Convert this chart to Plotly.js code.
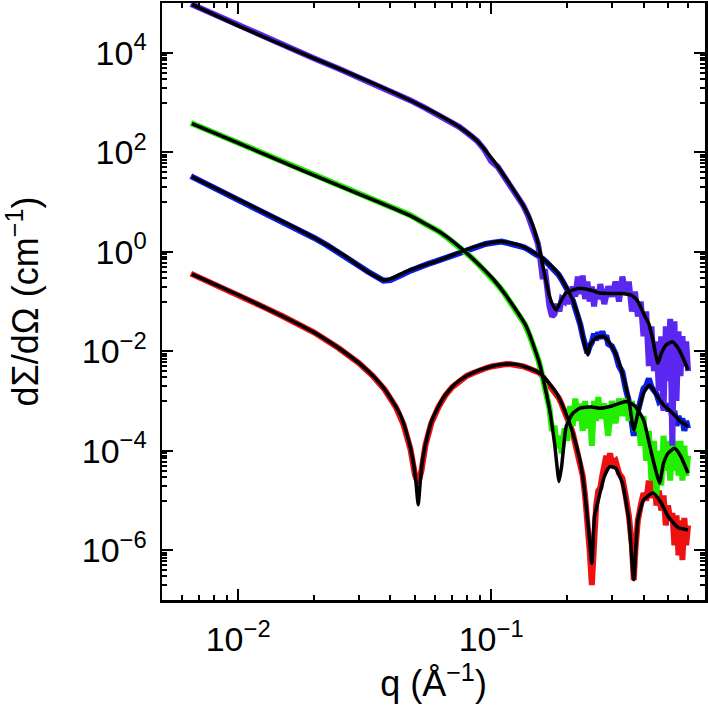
<!DOCTYPE html>
<html>
<head>
<meta charset="utf-8">
<script src="https://cdn.plot.ly/plotly-3.0.1.min.js"></script>
<style>html,body{margin:0;padding:0;background:#fff;}#chart{width:708px;height:712px;}</style>
</head>
<body>
<div id="chart"></div>
<script>
// ---------- data (q in 1/Å, dΣ/dΩ in 1/cm) ----------
const qPurple = [0.0065,0.008,0.01,0.0125,0.015,0.0175,0.02,0.025,0.03,0.036,0.042,0.048,0.055,0.062,0.068,0.075,0.082,0.088,0.094,0.1,0.106,0.112,0.118,0.124,0.13,0.134,0.14,0.146,0.15,0.153,0.156,0.16,0.163,0.166,0.17,0.174,0.178,0.182,0.186,0.19,0.195,0.2,0.205,0.21,0.215,0.22,0.225,0.23,0.235,0.24,0.245,0.25,0.255,0.26,0.265,0.27,0.28,0.29,0.3,0.31,0.32,0.33,0.34,0.35,0.36,0.37,0.38,0.39,0.4,0.41,0.42,0.43,0.44,0.45,0.46,0.47,0.48,0.49,0.5,0.51,0.52,0.53,0.54,0.55,0.56,0.57,0.58,0.59,0.6];
const iPurple = [9.55e4,5.93e4,3.51e4,2.13e4,1.43e4,1.02e4,7.67e3,4.78e3,3.22e3,2.17e3,1.51e3,1.10e3,769,564,434,321,226,169,113,66,51.5,34.4,23.5,15.8,10.8,8.43,5.28,3.0,2.1,1.46,0.794,0.282,0.447,0.158,0.0794,0.0501,0.0562,0.0891,0.0631,0.112,0.1,0.158,0.0891,0.2,0.126,0.316,0.141,0.331,0.112,0.251,0.1,0.2,0.0794,0.178,0.112,0.224,0.0891,0.2,0.126,0.251,0.1,0.316,0.141,0.251,0.0631,0.158,0.0501,0.1,0.02,0.0631,0.00501,0.0316,0.00398,0.0158,0.00158,0.02,6.31e-4,0.0316,0.00251,0.0447,1.26e-4,0.0398,1e-3,0.0251,3.16e-3,0.02,5.01e-3,0.0158,3.98e-3];

const qGreen = [0.0065,0.008,0.01,0.0125,0.015,0.0175,0.02,0.025,0.03,0.036,0.042,0.048,0.055,0.062,0.068,0.075,0.082,0.088,0.094,0.1,0.106,0.112,0.118,0.124,0.13,0.136,0.142,0.148,0.154,0.16,0.166,0.17,0.174,0.178,0.182,0.186,0.19,0.195,0.2,0.205,0.21,0.215,0.22,0.225,0.23,0.235,0.24,0.245,0.25,0.255,0.26,0.265,0.27,0.28,0.29,0.3,0.31,0.32,0.33,0.34,0.35,0.36,0.37,0.38,0.39,0.4,0.41,0.42,0.43,0.44,0.45,0.46,0.47,0.48,0.49,0.5,0.51,0.52,0.53,0.54,0.55,0.56,0.57,0.58,0.59,0.6];
const iGreen = [389,248,152,94.4,63.5,45.5,34.3,21.3,14.6,9.93,7.08,5.41,3.59,2.57,1.82,1.25,0.834,0.593,0.425,0.310,0.218,0.153,0.105,0.0714,0.0494,0.0347,0.0204,0.0113,6.41e-3,2.88e-3,1.22e-3,7.0e-4,2.51e-4,3.16e-4,1.12e-4,2.0e-4,8.91e-5,2.82e-4,1.58e-4,7.94e-4,3.16e-4,1.12e-3,3.98e-4,8.91e-4,2.51e-4,1e-3,2.82e-4,7.94e-4,1.26e-4,1e-3,3.98e-4,1.2e-3,4.47e-4,8.91e-4,2.0e-4,1e-3,3.55e-4,1.12e-3,5.01e-4,1.12e-3,3.98e-4,1e-3,2.51e-4,6.31e-4,1.26e-4,5.01e-4,6.31e-5,2.51e-4,2.51e-5,1.58e-4,1.26e-5,1e-4,2.0e-5,2.0e-4,3.98e-5,1.58e-4,2.51e-5,1.78e-4,3.98e-5,1.58e-4,3.16e-5,1.58e-4,2.51e-5,1.26e-4,3.16e-5,7.94e-5];

const qBlue = [0.0065,0.008,0.01,0.0125,0.015,0.0175,0.02,0.0225,0.025,0.0275,0.03,0.0325,0.035,0.0375,0.04,0.0425,0.045,0.048,0.052,0.056,0.06,0.065,0.07,0.075,0.08,0.085,0.09,0.095,0.1,0.105,0.11,0.115,0.12,0.125,0.13,0.135,0.14,0.145,0.15,0.155,0.16,0.165,0.17,0.175,0.18,0.185,0.19,0.195,0.2,0.205,0.21,0.215,0.22,0.225,0.23,0.235,0.24,0.245,0.25,0.255,0.26,0.265,0.27,0.275,0.28,0.285,0.29,0.3,0.31,0.32,0.33,0.34,0.35,0.36,0.366,0.372,0.38,0.39,0.4,0.41,0.42,0.43,0.44,0.45,0.46,0.47,0.48,0.49,0.5,0.51,0.52,0.53,0.54,0.55,0.56,0.57,0.58,0.59,0.6];
const iBlue = [33.1,19.6,11.1,6.41,4.05,2.72,1.89,1.34,0.973,0.713,0.524,0.400,0.321,0.263,0.269,0.302,0.355,0.417,0.5,0.565,0.632,0.733,0.853,0.982,1.10,1.23,1.36,1.43,1.50,1.56,1.60,1.52,1.46,1.41,1.36,1.23,1.11,1.0,0.914,0.83,0.721,0.625,0.546,0.478,0.42,0.343,0.275,0.223,0.176,0.136,0.107,0.074,0.0514,0.0344,0.0205,0.0126,9.12e-3,0.0126,0.0151,0.0224,0.0166,0.024,0.0178,0.0251,0.0182,0.0209,0.0141,0.0126,8.91e-3,5.01e-3,3.8e-3,1.78e-3,1e-3,3.55e-4,2.0e-4,3.98e-4,6.31e-4,1.12e-3,1.78e-3,2.0e-3,2.82e-3,1.91e-3,1.58e-3,1.41e-3,1e-3,1.12e-3,7.08e-4,8.91e-4,6.31e-4,7.94e-4,4.47e-4,6.31e-4,3.16e-4,5.01e-4,3.55e-4,4.47e-4,2.51e-4,3.98e-4,2.82e-4];

const qRed = [0.0065,0.008,0.01,0.0125,0.015,0.0175,0.02,0.025,0.03,0.034,0.038,0.042,0.045,0.048,0.05,0.0515,0.053,0.055,0.058,0.062,0.066,0.07,0.075,0.08,0.085,0.09,0.095,0.1,0.105,0.11,0.115,0.12,0.125,0.13,0.135,0.14,0.145,0.15,0.155,0.16,0.165,0.17,0.175,0.18,0.185,0.19,0.195,0.2,0.205,0.21,0.215,0.22,0.225,0.23,0.235,0.24,0.245,0.25,0.255,0.26,0.265,0.27,0.275,0.28,0.285,0.29,0.295,0.3,0.31,0.32,0.33,0.34,0.35,0.36,0.366,0.372,0.38,0.39,0.4,0.41,0.42,0.43,0.44,0.45,0.46,0.47,0.48,0.49,0.5,0.51,0.52,0.53,0.54,0.55,0.56,0.57,0.58,0.59,0.6];
const iRed = [0.363,0.227,0.135,0.0789,0.0505,0.0338,0.0238,0.0115,5.78e-3,3.22e-3,1.68e-3,7.53e-4,3.39e-4,1.06e-4,3.24e-5,2.24e-5,3.93e-5,1.31e-4,3.59e-4,7.67e-4,1.31e-3,1.88e-3,2.56e-3,3.19e-3,3.67e-3,4.19e-3,4.56e-3,4.93e-3,5.19e-3,5.37e-3,5.56e-3,5.47e-3,5.38e-3,5.3e-3,4.9e-3,4.54e-3,4.23e-3,3.94e-3,3.69e-3,3.09e-3,2.56e-3,2.14e-3,1.79e-3,1.51e-3,1.15e-3,8.57e-4,6.46e-4,4.63e-4,3.24e-4,2.29e-4,1.45e-4,9.3e-5,5.62e-5,3.16e-5,1.26e-5,3.98e-6,1e-6,2.0e-7,3.16e-6,7.94e-6,1.58e-5,1.78e-5,3.16e-5,4.47e-5,7.94e-5,5.01e-5,8.91e-5,5.62e-5,6.31e-5,3.55e-5,2.82e-5,1.26e-5,5.01e-6,1.26e-6,2.51e-7,1.12e-6,3.98e-6,7.94e-6,1.41e-5,1e-5,2.51e-5,1.12e-5,3.16e-5,7.94e-6,1.58e-5,6.31e-6,1.26e-5,3.16e-6,7.94e-6,3.98e-6,5.62e-6,1.26e-6,5.01e-6,7.94e-7,3.98e-6,6.31e-7,4.47e-6,1.26e-6,3.16e-6];

// model fits (black curves)
const qFitPurple = [0.00657,0.01003,0.01653,0.02527,0.03635,0.04775,0.06461,0.07517,0.08752,0.1018,0.1184,0.1337,0.1464,0.1555,0.1628,0.1703,0.1759,0.181,0.1877,0.197,0.21,0.224,0.25,0.268,0.3,0.33,0.36,0.38,0.4,0.42,0.4355,0.456,0.47,0.49,0.52,0.55,0.575,0.6];
const iFitPurple = [9.42e4,3.48e4,1.15e4,4.67e3,2.12e3,1.11e3,507,319,175,69.3,22.9,8.67,3.28,1.08,0.340,0.123,0.0813,0.0676,0.0977,0.146,0.170,0.184,0.166,0.148,0.145,0.145,0.132,0.100,0.0575,0.0355,0.0170,0.00575,0.00891,0.0132,0.0155,0.0112,0.00708,0.00422];

const qFitGreen = [0.00657,0.01003,0.01653,0.02527,0.03635,0.04775,0.06269,0.07517,0.08485,0.1018,0.1149,0.1378,0.1555,0.1703,0.1783,0.1854,0.19,0.198,0.21,0.224,0.25,0.268,0.3,0.342,0.37,0.4,0.43,0.45,0.463,0.48,0.5,0.531,0.56,0.6];
const iFitGreen = [378,152,51.4,20.8,9.73,5.33,2.49,1.24,0.713,0.283,0.129,0.0312,5.56e-3,6.6e-4,1.32e-4,2.41e-5,5.01e-5,3.09e-4,5.62e-4,7.16e-4,7.59e-4,7.16e-4,7.94e-4,9.77e-4,7.94e-4,4.17e-4,8.91e-5,3.55e-5,2.24e-5,5.62e-5,8.91e-5,1.12e-4,7.94e-5,3.55e-5];

const qFitBlue = [0.00657,0.01003,0.01653,0.02107,0.02644,0.03172,0.0357,0.03804,0.04053,0.04561,0.05228,0.06269,0.07517,0.09017,0.1081,0.1297,0.1555,0.181,0.197,0.21,0.224,0.2341,0.2412,0.246,0.26,0.276,0.29,0.31,0.33,0.35,0.366,0.38,0.4,0.423,0.45,0.48,0.52,0.56,0.6];
const iFitBlue = [32.1,11.2,3.18,1.64,0.820,0.430,0.303,0.270,0.296,0.391,0.505,0.681,0.986,1.36,1.60,1.36,0.820,0.409,0.205,0.107,0.0387,0.0134,8.43e-3,0.0135,0.0186,0.02,0.0162,9.12e-3,3.63e-3,1.05e-3,2.63e-4,5.75e-4,1.45e-3,2.09e-3,1.32e-3,8.32e-4,5.75e-4,3.89e-4,3.09e-4];

const qFitRed = [0.00657,0.01003,0.01465,0.01983,0.02527,0.03031,0.03473,0.03863,0.04359,0.04688,0.04919,0.05042,0.05147,0.05252,0.05373,0.05572,0.05884,0.06461,0.07186,0.0799,0.09017,0.1018,0.1149,0.1297,0.1555,0.181,0.197,0.21,0.224,0.232,0.242,0.25,0.256,0.265,0.28,0.294,0.31,0.33,0.35,0.366,0.38,0.4,0.436,0.47,0.5,0.55,0.6];
const iFitRed = [0.356,0.135,0.0536,0.0244,0.0111,5.56e-3,2.91e-3,1.52e-3,5.51e-4,1.82e-4,5.98e-5,2.37e-5,8.2e-6,2.61e-5,7.19e-5,1.82e-4,4.58e-4,1.15e-3,2.20e-3,3.19e-3,4.21e-3,5.07e-3,5.56e-3,5.31e-3,3.66e-3,1.46e-3,5.77e-4,2.29e-4,6.61e-5,2.24e-5,3.02e-6,5.50e-7,4.79e-6,1.02e-5,3.02e-5,4.79e-5,4.47e-5,2.24e-5,4.07e-6,2.57e-7,4.07e-6,1.02e-5,1.41e-5,8.91e-6,4.79e-6,2.82e-6,2.57e-6];

// axis labels
const xTickVals = [0.01, 0.1];
const xTickText = ['10<sup>−2</sup>', '10<sup>−1</sup>'];
const yTickVals = [1e-6, 1e-4, 1e-2, 1, 1e2, 1e4];
const yTickText = ['10<sup>−6</sup>', '10<sup>−4</sup>', '10<sup>−2</sup>', '10<sup>0</sup>', '10<sup>2</sup>', '10<sup>4</sup>'];

// ---------- styling ----------
const colPurple = '#5a28f0', colGreen = '#22ee00', colBlue = '#0a1ee6', colRed = '#ee1111';

// minor ticks: every digit on x; on y only within the decade below each labelled power
const xMinor = [];
[-3, -2, -1].forEach(d => { for (let k = 2; k <= 9; k++) { const v = k * Math.pow(10, d); if (v > 0.005 && v < 0.7) xMinor.push(v); } });
const yMinor = [];
[-7, -5, -3, -1, 1, 3].forEach(d => { for (let k = 1; k <= 9; k++) yMinor.push(k * Math.pow(10, d)); });

function dataTrace(x, y, c) {
  return {x: x, y: y, type: 'scatter', mode: 'lines', line: {color: c, width: 6}, hoverinfo: 'skip', showlegend: false};
}
function fitTrace(x, y) {
  return {x: x, y: y, type: 'scatter', mode: 'lines', line: {color: '#000', width: 3.5, shape: 'spline', smoothing: 0.5}, hoverinfo: 'skip', showlegend: false};
}

const traces = [
  dataTrace(qRed, iRed, colRed),
  dataTrace(qBlue, iBlue, colBlue),
  dataTrace(qGreen, iGreen, colGreen),
  dataTrace(qPurple, iPurple, colPurple),
  fitTrace(qFitRed, iFitRed),
  fitTrace(qFitGreen, iFitGreen),
  fitTrace(qFitBlue, iFitBlue),
  fitTrace(qFitPurple, iFitPurple)
];

const fontFam = '"Liberation Sans", Arial, Helvetica, sans-serif';
const axisCommon = {
  type: 'log', showgrid: false, zeroline: false,
  showline: true, linecolor: '#000', linewidth: 2.5, mirror: 'ticks',
  ticks: 'inside', ticklen: 11, tickwidth: 2, tickcolor: '#000',
  tickmode: 'array',
  tickfont: {family: fontFam, size: 34, color: '#000'}
};

const layout = {
  width: 708, height: 712,
  margin: {l: 162, r: 3, t: 3, b: 112},
  paper_bgcolor: '#fff', plot_bgcolor: '#fff',
  font: {family: fontFam, color: '#000'},
  xaxis: Object.assign({}, axisCommon, {
    range: [Math.log10(0.005), Math.log10(0.7)],
    tickvals: xTickVals, ticktext: xTickText,
    ticklabelstandoff: 8,
    minor: {tickmode: 'array', tickvals: xMinor, ticks: 'inside', ticklen: 5, tickwidth: 2, tickcolor: '#000', showgrid: false},
    title: {text: 'q (Å<sup>−1</sup>)', font: {family: fontFam, size: 36, color: '#000'}, standoff: 6}
  }),
  yaxis: Object.assign({}, axisCommon, {
    range: [-7, 5],
    tickvals: yTickVals, ticktext: yTickText,
    ticklabelstandoff: 6,
    minor: {tickmode: 'array', tickvals: yMinor, ticks: 'inside', ticklen: 5, tickwidth: 2, tickcolor: '#000', showgrid: false},
    title: {text: 'dΣ/dΩ (cm<sup>−1</sup>)', font: {family: fontFam, size: 36, color: '#000'}, standoff: 32}
  })
};

Plotly.newPlot('chart', traces, layout, {staticPlot: true, displayModeBar: false});
</script>
</body>
</html>
